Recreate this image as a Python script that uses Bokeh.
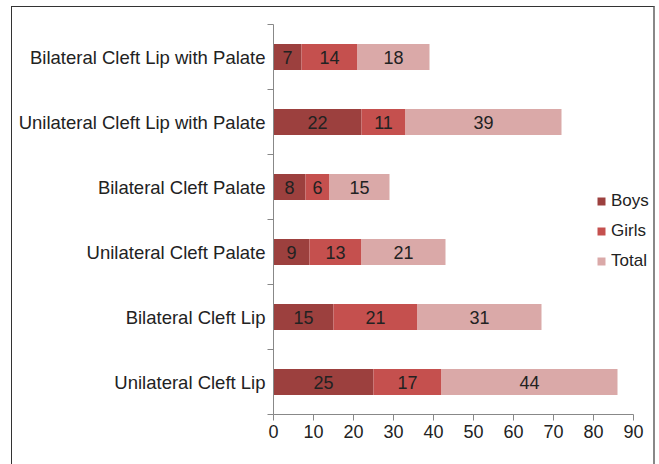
from bokeh.plotting import figure
from bokeh.models import ColumnDataSource, FixedTicker, Legend, LegendItem, Range1d
from bokeh.core.properties import value
from bokeh.embed import file_html
from bokeh.resources import INLINE

categories = ["Unilateral Cleft Lip", "Bilateral Cleft Lip", "Unilateral Cleft Palate",
              "Bilateral Cleft Palate", "Unilateral Cleft Lip with Palate", "Bilateral Cleft Lip with Palate"]
boys = [25, 15, 9, 8, 22, 7]
girls = [17, 21, 13, 6, 11, 14]
total = [44, 31, 21, 15, 39, 18]
series_names = ["Boys", "Girls", "Total"]
colors = ["#9C403E", "#C5504E", "#DAA9A8"]
x_ticks = list(range(0, 100, 10))

FONT = "Liberation Sans"

p = figure(width=644, height=460, output_backend="svg", toolbar_location=None,
           x_range=Range1d(0, 95.75), y_range=Range1d(0, len(categories)),
           min_border_left=261, min_border_right=0, min_border_top=17, min_border_bottom=53)
p.styles = {"border": "1px solid #333333", "border-right": "2px solid #888888",
            "margin-left": "11px", "margin-top": "6px"}
p.outline_line_color = None
p.grid.visible = False

ys = [i + 0.5 for i in range(len(categories))]
series = [boys, girls, total]
left = [0] * len(categories)
renderers = []
for name, vals, col in zip(series_names, series, colors):
    right = [l + v for l, v in zip(left, vals)]
    mid = [(l + r) / 2 for l, r in zip(left, right)]
    src = ColumnDataSource(dict(y=ys, left=left, right=right, mid=mid, lab=[str(v) for v in vals]))
    r = p.hbar(y="y", left="left", right="right", height=0.4, source=src, fill_color=col, line_color=None)
    renderers.append(r)
    p.text(x="mid", y="y", text="lab", source=src, text_align="center", text_baseline="middle",
           text_font=value(FONT), text_font_size="18px", text_color="#222222")
    left = right

# x axis
xa = p.xaxis[0]
xa.ticker = FixedTicker(ticks=x_ticks)
xa.bounds = (0, 90)
xa.axis_line_color = "#888888"
xa.major_tick_line_color = "#888888"
xa.major_tick_out = 6
xa.major_tick_in = 0
xa.minor_tick_line_color = None
xa.major_label_text_font = FONT
xa.major_label_text_font_size = "18px"
xa.major_label_text_color = "#222222"
xa.major_label_standoff = 4

# y axis
ya = p.yaxis[0]
ya.ticker = FixedTicker(ticks=ys, minor_ticks=list(range(len(categories) + 1)))
ya.major_label_overrides = {y: c for y, c in zip(ys, categories)}
ya.axis_line_color = "#888888"
ya.major_tick_line_color = None
ya.major_tick_out = 0
ya.major_tick_in = 0
ya.minor_tick_line_color = "#888888"
ya.minor_tick_out = 6
ya.minor_tick_in = 0
ya.major_label_text_font = FONT
ya.major_label_text_font_size = "18.5px"
ya.major_label_text_color = "#222222"
ya.major_label_standoff = 2

legend = Legend(items=[LegendItem(label=n, renderers=[r]) for n, r in zip(series_names, renderers)],
                location=(323, 143), orientation="vertical")
legend.border_line_color = None
legend.background_fill_alpha = 0
legend.padding = 0
legend.margin = 0
legend.spacing = 10
legend.glyph_width = 10
legend.glyph_height = 10
legend.label_height = 20
legend.label_standoff = 5
legend.label_text_font = FONT
legend.label_text_font_size = "17px"
legend.label_text_color = "#222222"
p.add_layout(legend, "center")

open("out.html", "w").write(file_html(p, INLINE))
